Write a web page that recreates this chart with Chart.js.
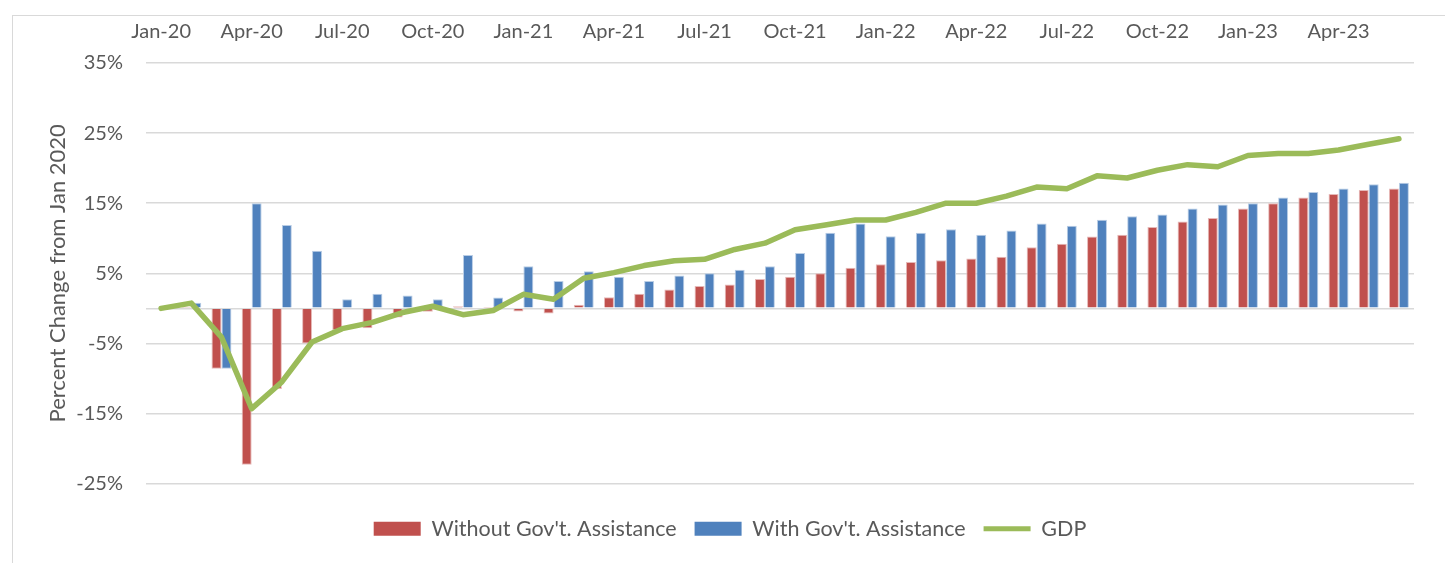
<!DOCTYPE html>
<html>
<head>
<meta charset="utf-8">
<script src="https://cdn.jsdelivr.net/npm/chart.js@4/dist/chart.umd.min.js"></script>
<style>
  html, body { margin: 0; padding: 0; background: #ffffff; overflow: hidden; }
  #frame { position: absolute; left: 12px; top: 15px; width: 1440px; height: 560px;
           border: 1px solid #D9D9D9; box-sizing: border-box; }
  #wrap { position: absolute; left: 0; top: 0; width: 1430px; height: 548px; }
</style>
</head>
<body>
<div id="frame"><div id="wrap"><canvas id="c"></canvas></div></div>
<script>
const months = ['Jan-20','Feb-20','Mar-20','Apr-20','May-20','Jun-20','Jul-20','Aug-20','Sep-20','Oct-20','Nov-20','Dec-20',
  'Jan-21','Feb-21','Mar-21','Apr-21','May-21','Jun-21','Jul-21','Aug-21','Sep-21','Oct-21','Nov-21','Dec-21',
  'Jan-22','Feb-22','Mar-22','Apr-22','May-22','Jun-22','Jul-22','Aug-22','Sep-22','Oct-22','Nov-22','Dec-22',
  'Jan-23','Feb-23','Mar-23','Apr-23','May-23','Jun-23'];

const withoutAssistance = [0, 0.2, -8.6, -22.3, -11.5, -5.0, -3.1, -2.85, -1.3, -0.5, 0.3, 0.05,
  -0.45, -0.75, 0.5, 1.6, 2.1, 2.7, 3.2, 3.4, 4.2, 4.5, 5.0, 5.8,
  6.3, 6.6, 6.85, 7.1, 7.35, 8.7, 9.2, 10.25, 10.5, 11.6, 12.4, 12.9,
  14.25, 15.0, 15.8, 16.3, 16.9, 17.1];

const withAssistance = [0, 0.8, -8.6, 15.0, 11.9, 8.2, 1.3, 2.1, 1.85, 1.3, 7.6, 1.55,
  6.0, 3.9, 5.3, 4.5, 3.9, 4.7, 5.0, 5.5, 6.0, 7.9, 10.8, 12.1,
  10.3, 10.8, 11.3, 10.5, 11.1, 12.1, 11.8, 12.65, 13.15, 13.4, 14.25, 14.8,
  15.0, 15.8, 16.6, 17.1, 17.7, 17.9];

const gdp = [0, 0.75, -4.1, -14.3, -10.5, -4.8, -2.9, -2.0, -0.6, 0.3, -0.9, -0.3,
  2.0, 1.3, 4.3, 5.1, 6.1, 6.8, 7.0, 8.4, 9.3, 11.2, 11.9, 12.6,
  12.6, 13.7, 15.0, 15.0, 16.0, 17.3, 17.05, 18.9, 18.6, 19.7, 20.5, 20.2,
  21.8, 22.1, 22.1, 22.6, 23.4, 24.2];

const yTicks = [-25, -15, -5, 5, 15, 25, 35];
const seriesNames = ["Without Gov't. Assistance", "With Gov't. Assistance", 'GDP'];
const yTitle = 'Percent Change from Jan 2020';

const FONT = 'Lato, "Open Sans", sans-serif';
const TXT = '#595959';

new Chart(document.getElementById('c'), {
  type: 'bar',
  data: {
    labels: months,
    datasets: [
      { label: seriesNames[0], data: withoutAssistance, backgroundColor: '#C0504D',
        borderColor: '#E6B9B8', borderWidth: 1, order: 1,
        categoryPercentage: 0.66, barPercentage: 1.0 },
      { label: seriesNames[1], data: withAssistance, backgroundColor: '#4F81BD',
        borderColor: '#B9CDE5', borderWidth: 1, order: 1,
        categoryPercentage: 0.66, barPercentage: 1.0 },
      { type: 'line', label: seriesNames[2], data: gdp, borderColor: '#9BBB59',
        backgroundColor: '#9BBB59', borderWidth: 5.5, pointRadius: 0, tension: 0,
        borderCapStyle: 'round', borderJoinStyle: 'round', order: 0 }
    ]
  },
  options: {
    responsive: true,
    maintainAspectRatio: false,
    animation: false,
    layout: { padding: { top: 0, left: 33, right: 29, bottom: 14.5 } },
    scales: {
      x: {
        position: 'top',
        grid: { display: false, drawTicks: false },
        border: { display: false },
        ticks: {
          autoSkip: false, maxRotation: 0, padding: 19,
          color: TXT, font: { family: FONT, size: 20 },
          callback: function(v, i) { return i % 3 === 0 ? this.getLabelForValue(v) : ''; }
        },
        afterFit: function(s) { s.height = 47; }
      },
      y: {
        min: -25, max: 35,
        afterBuildTicks: function(s) {
          s.ticks = yTicks.concat([0]).sort(function(a, b) { return a - b; }).map(function(v) { return { value: v }; });
        },
        grid: { color: '#D9D9D9', lineWidth: 1.5, drawTicks: false },
        border: { display: false },
        ticks: {
          padding: 23, color: TXT, font: { family: FONT, size: 20 },
          callback: function(v) { return v === 0 ? '' : v + '%'; }
        },
        title: { display: true, text: yTitle, color: TXT, font: { family: FONT, size: 22 }, padding: { top: -1, bottom: 0 } },
        afterFit: function(s) { s.width = 100; }
      }
    },
    plugins: {
      legend: {
        position: 'bottom',
        title: { display: true, text: '', font: { size: 12 }, padding: { top: 2, bottom: 0 } },
        labels: {
          usePointStyle: true, pointStyleWidth: 47, boxHeight: 14, padding: 18,
          color: TXT, font: { family: FONT, size: 21.5 },
          generateLabels: function(chart) {
            const items = Chart.defaults.plugins.legend.labels.generateLabels(chart);
            items.sort(function(a, b) { return a.datasetIndex - b.datasetIndex; });
            items.forEach(function(it) {
              if (it.datasetIndex < 2) { it.pointStyle = 'rect'; it.lineWidth = 0; it.strokeStyle = it.fillStyle; }
              else { it.pointStyle = 'line'; it.lineWidth = 5; it.strokeStyle = '#9BBB59'; }
            });
            return items;
          }
        }
      },
      tooltip: { enabled: false }
    }
  }
});
</script>
</body>
</html>
